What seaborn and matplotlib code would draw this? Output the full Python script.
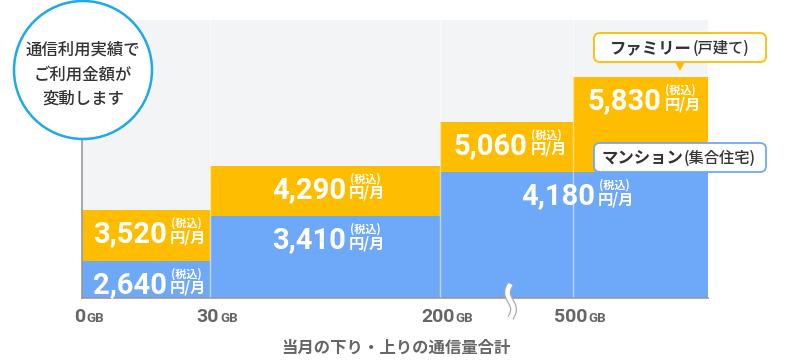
import numpy as np
import matplotlib.pyplot as plt
import matplotlib.patches as mpatches
from matplotlib.transforms import Affine2D
import seaborn as sns

# data
tick_nums = ['0', '30', '200', '500']
mansion = [2640, 3410, 4180, 4180]   # マンション(集合住宅)
family = [3520, 4290, 5060, 5830]    # ファミリー(戸建て)

# layout (pixel-ish widths of each usage tier on the x axis)
tier_widths = [128, 230, 133, 135]
y_range = (1989, 6831)

YELLOW = '#FFBD00'
BLUE = '#6EA8F8'
BG = '#F3F4F6'
TXT = '#333333'
GREY = '#666666'

sns.set_theme(style='white')
plt.rcParams['font.family'] = ['Noto Sans CJK JP', 'DejaVu Sans']

W, H = 801, 361
fig = plt.figure(figsize=(W / 100, H / 100), dpi=100)
ax = fig.add_axes([82 / W, (H - 298) / H, 626 / W, 278 / H])
ax.set_facecolor(BG)
pix = Affine2D().scale(1 / W, -1 / H).translate(0, 1) + fig.transFigure

lefts = np.concatenate([[0], np.cumsum(tier_widths)[:-1]])
rights = lefts + np.array(tier_widths)
centers = (lefts + rights) / 2
m = np.array(mansion)
f = np.array(family)

ax.bar(lefts, m - y_range[0], bottom=y_range[0], width=tier_widths,
       align='edge', color=BLUE, linewidth=0)
ax.bar(lefts, f - m, bottom=m, width=tier_widths,
       align='edge', color=YELLOW, linewidth=0)
for x in lefts[1:]:
    ax.axvline(x, color='white', alpha=0.55, lw=1)

ax.set_xlim(0, sum(tier_widths))
ax.set_ylim(*y_range)
ax.set_xticks([])
ax.set_yticks([])
for s in ['top', 'right']:
    ax.spines[s].set_visible(False)
for s in ['left', 'bottom']:
    ax.spines[s].set_color('#999999')
    ax.spines[s].set_linewidth(1.2)

k = 0.72  # px -> pt


def price_label(xc, top, val):
    ax.annotate(f'{val:,}', (xc, top), xytext=(21 * k, -32 * k),
                textcoords='offset points', ha='right', va='baseline',
                fontsize=21, family='Roboto', weight='bold', color='white')
    ax.annotate('円/月', (xc, top), xytext=(24 * k, -32 * k),
                textcoords='offset points', ha='left', va='baseline',
                fontsize=11, weight='bold', color='white')
    ax.annotate('(税込)', (xc, top), xytext=(40 * k, -16.5 * k),
                textcoords='offset points', ha='center', va='baseline',
                fontsize=8, weight='bold', color='white')


for xc, fv in zip(centers, family):
    price_label(xc, fv, fv)

# mansion price: neighbouring tiers with the same price share one label
i = 0
while i < len(mansion):
    j = i
    while j + 1 < len(mansion) and mansion[j + 1] == mansion[i]:
        j += 1
    price_label((lefts[i] + rights[j]) / 2, mansion[i], mansion[i])
    i = j + 1

# x tick labels
for xl, num in zip(lefts, tick_nums):
    off = 5.6 * len(num) - 2
    ax.annotate(num, (xl, y_range[0]), xytext=(off * k, -24 * k),
                textcoords='offset points', ha='right', va='baseline',
                fontsize=14, family='Roboto', weight='bold', color=GREY,
                annotation_clip=False)
    ax.annotate('GB', (xl, y_range[0]), xytext=((off + 1) * k, -24 * k),
                textcoords='offset points', ha='left', va='baseline',
                fontsize=9.5, family='Roboto', weight='bold', color=GREY,
                annotation_clip=False)

fig.text(396 / W, 1 - 348 / H, '当月の下り・上りの通信量合計', ha='center', va='center',
         fontsize=11.8, weight='bold', color=GREY)

# axis break mark
t = np.linspace(0, 1, 60)
bx = 510.5 - 3 * np.sin(2 * np.pi * t)
by = 284 + 34 * t
fig.add_artist(plt.Line2D(bx, by, transform=pix, color='#AAAAAA', lw=5,
                          solid_capstyle='butt'))
fig.add_artist(plt.Line2D(bx, by, transform=pix, color='white', lw=3.2,
                          solid_capstyle='butt'))

# circle note
fig.add_artist(mpatches.Circle((83, 70), 69, transform=pix, facecolor='white',
                               edgecolor='#1EAAE6', lw=1.8))
for yy, line in zip([50, 75, 99], ['通信利用実績で', 'ご利用金額が', '変動します']):
    fig.text(83 / W, 1 - yy / H, line, ha='center', va='center',
             fontsize=11.8, weight='medium', color=TXT)


# callout boxes
def callout(y0, color, main, sub, split):
    fig.add_artist(mpatches.FancyBboxPatch((594, y0), 172, 29, transform=pix,
                                           boxstyle='round,pad=0,rounding_size=6',
                                           facecolor='white', edgecolor=color, lw=1.3))
    fig.add_artist(mpatches.Polygon([(675.5, y0 + 29.5), (684.5, y0 + 29.5), (680, y0 + 38)],
                                    closed=True, transform=pix, facecolor=color,
                                    edgecolor='none'))
    fig.text(split / W, 1 - (y0 + 15) / H, main, ha='right', va='center',
             fontsize=11.8, weight='bold', color=TXT)
    fig.text((split + 1) / W, 1 - (y0 + 15) / H, sub, ha='left', va='center',
             fontsize=11, weight='medium', color=TXT)


callout(33, YELLOW, 'ファミリー', '(戸建て)', 692)
callout(143, BLUE, 'マンション', '(集合住宅)', 683)

fig.savefig('out.png', dpi=100)
